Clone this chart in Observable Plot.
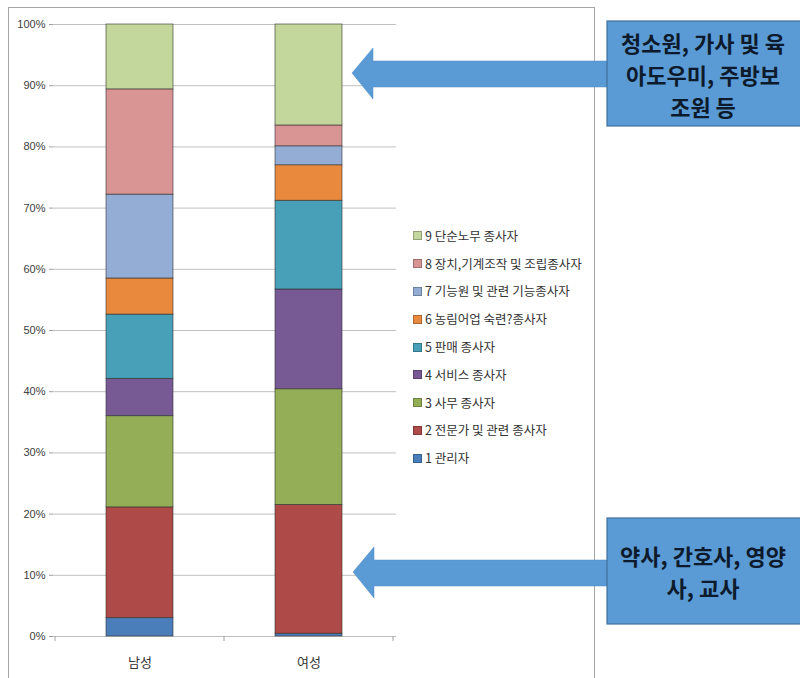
<!DOCTYPE html>
<html>
<head>
<meta charset="utf-8">
<script src="https://cdn.jsdelivr.net/npm/d3@7"></script>
<script src="https://cdn.jsdelivr.net/npm/@observablehq/plot@0.6"></script>
<style>
  body { margin: 0; background: #fff; }
  #wrap { position: relative; width: 800px; height: 678px; overflow: hidden; font-family: "Noto Sans CJK KR", "Noto Sans", sans-serif; }
  #frame { position: absolute; left: 8px; top: 7px; width: 587px; height: 700px; border: 1px solid #a6a6a6; box-sizing: border-box; }
  #chart { position: absolute; left: 0; top: 0; }
  #legend { position: absolute; left: 413px; top: 222px; font-size: 12.5px; color: #333; }
  #legend .item { height: 27.8px; line-height: 20px; display: flex; align-items: center; white-space: nowrap; }
  #legend .sw { width: 7px; height: 7px; margin-right: 3px; border: 0.5px solid rgba(0,0,0,0.25); }
  #overlay { position: absolute; left: 0; top: 0; }
</style>
</head>
<body>
<div id="wrap">
  <div id="frame"></div>
  <div id="chart"></div>
  <div id="legend"></div>
  <svg id="overlay" width="800" height="678"></svg>
</div>
<script>
// ---- data ----
const genders = ["남성", "여성"];
const categories = [
  "1 관리자",
  "2 전문가 및 관련 종사자",
  "3 사무 종사자",
  "4 서비스 종사자",
  "5 판매 종사자",
  "6 농림어업 숙련?종사자",
  "7 기능원 및 관련 기능종사자",
  "8 장치,기계조작 및 조립종사자",
  "9 단순노무 종사자"
];
const maleValues   = [3.0, 18.1, 14.9, 6.1, 10.5, 5.9, 13.7, 17.2, 10.6];
const femaleValues = [0.45, 21.05, 18.9, 16.3, 14.5, 5.8, 3.1, 3.4, 16.5];
const yTicks = [0, 10, 20, 30, 40, 50, 60, 70, 80, 90, 100];
const colors = ["#4a7ebb", "#ae4a47", "#93ae56", "#775a94", "#47a0b8", "#e8893e", "#93add5", "#d99594", "#c3d69b"];
const noteTop = ["청소원, 가사 및 육", "아도우미, 주방보", "조원 등"];
const noteBottom = ["약사, 간호사, 영양", "사, 교사"];

const rows = [];
categories.forEach((c, i) => {
  rows.push({gender: genders[0], cat: c, value: maleValues[i]});
  rows.push({gender: genders[1], cat: c, value: femaleValues[i]});
});

const chart = Plot.plot({
  width: 800,
  height: 678,
  marginTop: 24,
  marginBottom: 42,
  marginLeft: 53,
  marginRight: 404,
  style: { background: "transparent", fontFamily: "'Liberation Sans', Arial, sans-serif", fontSize: "11px", color: "#404040" },
  x: { domain: genders, paddingInner: 0.602, paddingOuter: 0.31, axis: null },
  y: { domain: [0, 100], ticks: yTicks, tickFormat: d => d + "%", tickSize: 4, tickPadding: 4, label: null },
  color: { domain: categories, range: colors },
  marks: [
    Plot.ruleY(yTicks, { stroke: "#c0c0c0", strokeWidth: 1 }),
    Plot.barY(rows, {
      x: "gender", y: "value", fill: "cat", order: categories,
      stroke: "#2f2f2f", strokeWidth: 0.8, strokeOpacity: 0.75
    }),
    Plot.text(genders, { x: d => d, y: 0, dy: 26, text: d => d, fontSize: 13, fill: "#333", fontFamily: "'Noto Sans CJK KR', sans-serif" })
  ]
});
document.getElementById("chart").appendChild(chart);

// grey y tick marks
d3.select(chart).selectAll("g[aria-label^='y-axis'] line, g[aria-label^='y-axis'] path").attr("stroke", "#a0a0a0");

// category boundary tick marks on the x axis
const xs = chart.scale("x");
const ys = chart.scale("y");
const bw = xs.bandwidth;
const step = xs.step ?? bw / (1 - xs.paddingInner);
const gap = (step - bw) / 2;
const y0 = ys.apply(0);
const bounds = genders.map(g => xs.apply(g) - gap);
bounds.push(xs.apply(genders[genders.length - 1]) + bw + gap);
const tg = d3.select(chart).append("g");
bounds.forEach(b => {
  tg.append("line").attr("x1", b).attr("x2", b).attr("y1", y0).attr("y2", y0 + 5)
    .attr("stroke", "#a0a0a0");
});

// legend (reverse order, as in the reference)
const leg = d3.select("#legend");
categories.slice().reverse().forEach(c => {
  const i = categories.indexOf(c);
  const it = leg.append("div").attr("class", "item");
  it.append("div").attr("class", "sw").style("background", colors[i]);
  it.append("span").text(c);
});

// annotations
const ov = d3.select("#overlay");
const arrowColor = "#5b9bd5";
function arrow(tipX, cy) {
  const pts = [
    [tipX, cy], [tipX + 21, cy - 25], [tipX + 21, cy - 12], [607, cy - 12],
    [607, cy + 14], [tipX + 21, cy + 14], [tipX + 21, cy + 26]
  ];
  ov.append("polygon").attr("points", pts.map(p => p.join(",")).join(" "))
    .attr("fill", arrowColor).attr("stroke", "#4f8bc4").attr("stroke-width", 0.5);
}
function box(y, h, lines, firstY) {
  ov.append("rect").attr("x", 607).attr("y", y).attr("width", 200).attr("height", h)
    .attr("fill", arrowColor).attr("stroke", "#41719c").attr("stroke-width", 1.2);
  lines.forEach((t, k) => {
    ov.append("text").attr("x", 703).attr("y", firstY + k * 32)
      .attr("text-anchor", "middle").attr("dominant-baseline", "central")
      .attr("font-family", "'Noto Sans CJK KR', sans-serif").attr("font-weight", "bold")
      .attr("font-size", 22).attr("fill", "#0d1a2b").text(t);
  });
}
arrow(352, 73);
arrow(353, 572);
box(21, 105, noteTop, 42);
box(518, 106, noteBottom, 555);
</script>
</body>
</html>
